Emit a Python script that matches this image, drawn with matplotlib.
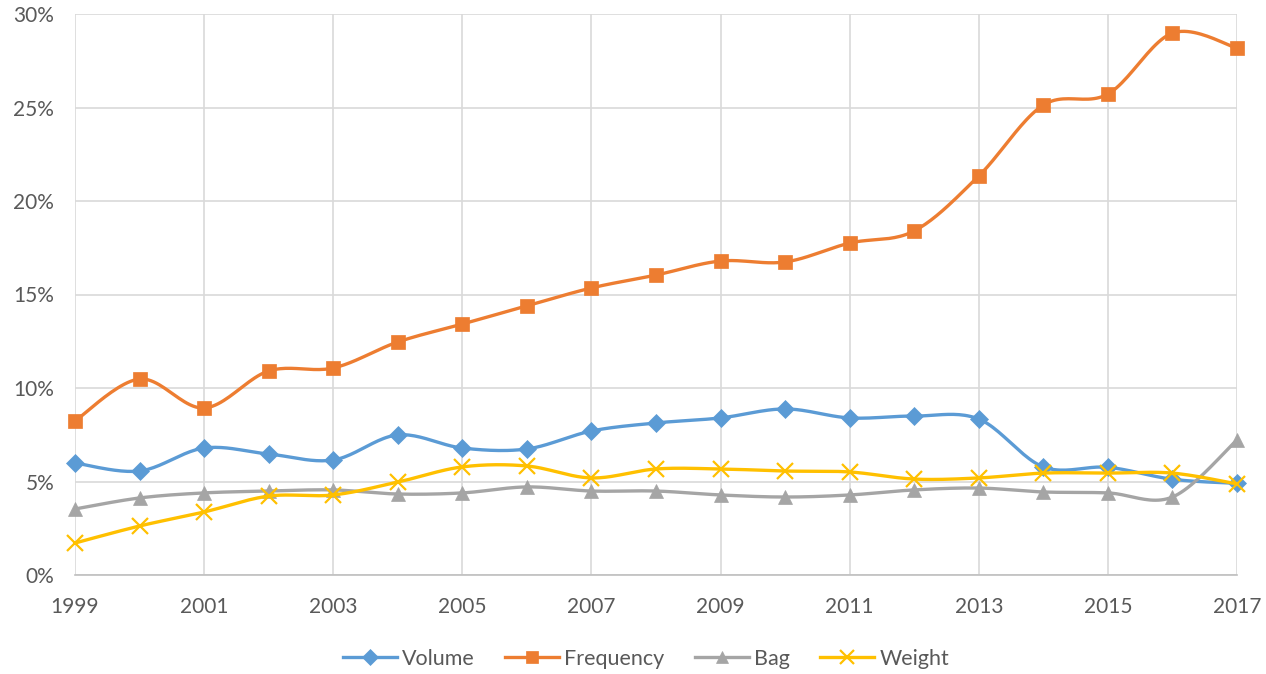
import numpy as np
import matplotlib
matplotlib.use("Agg")
import matplotlib.pyplot as plt
from matplotlib.ticker import FuncFormatter
from matplotlib.lines import Line2D

plt.rcParams['font.family'] = ['Lato', 'DejaVu Sans']

years = list(range(1999, 2018))
volume = [5.99, 5.56, 6.79, 6.47, 6.15, 7.49, 6.79, 6.74, 7.70, 8.13,
          8.40, 8.88, 8.40, 8.50, 8.34, 5.78, 5.76, 5.12, 4.90]
frequency = [8.24, 10.48, 8.93, 10.91, 11.07, 12.46, 13.42, 14.39, 15.35, 16.04,
             16.79, 16.74, 17.75, 18.40, 21.34, 25.13, 25.72, 28.98, 28.18]
bag = [3.53, 4.12, 4.39, 4.49, 4.55, 4.33, 4.39, 4.71, 4.49, 4.49,
       4.28, 4.17, 4.28, 4.55, 4.65, 4.44, 4.39, 4.17, 7.22]
weight = [1.71, 2.62, 3.37, 4.22, 4.28, 4.97, 5.78, 5.83, 5.19, 5.67,
          5.67, 5.56, 5.51, 5.13, 5.19, 5.45, 5.45, 5.45, 4.87]

series_names = ["Volume", "Frequency", "Bag", "Weight"]
series_values = [volume, frequency, bag, weight]
colors = ["#5B9BD5", "#ED7D31", "#A5A5A5", "#FFC000"]
markers = ["D", "s", "^", "x"]
marker_sizes = [9, 10, 10, 11]


def smooth(x, y, n=24):
    """Catmull-Rom style cubic Bezier smoothing through every point."""
    x = np.asarray(x, float)
    y = np.asarray(y, float)
    px = np.concatenate([[x[0]], x, [x[-1]]])
    py = np.concatenate([[y[0]], y, [y[-1]]])
    t = np.linspace(0, 1, n)[:, None]
    xs, ys = [], []
    for i in range(len(x) - 1):
        p0 = np.array([px[i + 1], py[i + 1]])
        p3 = np.array([px[i + 2], py[i + 2]])
        c1 = p0 + (p3 - np.array([px[i], py[i]])) / 6.0
        c2 = p3 - (np.array([px[i + 3], py[i + 3]]) - p0) / 6.0
        b = ((1 - t) ** 3) * p0 + 3 * ((1 - t) ** 2) * t * c1 + 3 * (1 - t) * t ** 2 * c2 + t ** 3 * p3
        xs.append(b[:, 0])
        ys.append(b[:, 1])
    return np.concatenate(xs), np.concatenate(ys)


fig = plt.figure(figsize=(12.66, 6.74), dpi=100)
ax = fig.add_axes([75 / 1266, 99 / 674, (1237 - 75) / 1266, (575 - 14) / 674])

handles = []
for i, (name, vals, c, m, ms) in enumerate(zip(series_names, series_values, colors, markers, marker_sizes)):
    sx, sy = smooth(years, vals)
    ax.plot(sx, sy, color=c, lw=2.4, zorder=3 + i, solid_capstyle='round')
    ax.plot(years, vals, linestyle='none', marker=m, markersize=ms, color=c,
            markeredgewidth=1.6 if m == 'x' else 0.5, markeredgecolor=c, zorder=3 + i,
            clip_on=False)
    handles.append(Line2D([0], [0], color=c, lw=2.4, marker=m, markersize=ms - 1,
                          markeredgewidth=1.6 if m == 'x' else 0.5, markeredgecolor=c))

ax.set_xlim(1999, 2017)
ax.set_ylim(0, 30)
ax.set_xticks(range(1999, 2018, 2))
ax.set_yticks(range(0, 31, 5))
ax.yaxis.set_major_formatter(FuncFormatter(lambda v, p: f"{int(v)}%"))
ax.grid(True, color="#D9D9D9", lw=1.2, zorder=0)
ax.set_axisbelow(True)
for side in ["left", "right", "top"]:
    ax.spines[side].set_visible(False)
ax.spines["bottom"].set_color("#BFBFBF")
ax.spines["bottom"].set_linewidth(1.2)
ax.tick_params(length=0, labelsize=15, colors="#595959")
ax.tick_params(axis='x', pad=16)
ax.tick_params(axis='y', pad=15)

fig.legend(handles, series_names, loc="center", bbox_to_anchor=(646 / 1266, 1 - 659 / 674),
           ncol=4, frameon=False, fontsize=15.5, labelcolor="#595959",
           handlelength=2.5, columnspacing=1.4, handletextpad=0.25)

fig.savefig("out.png", dpi=100)
